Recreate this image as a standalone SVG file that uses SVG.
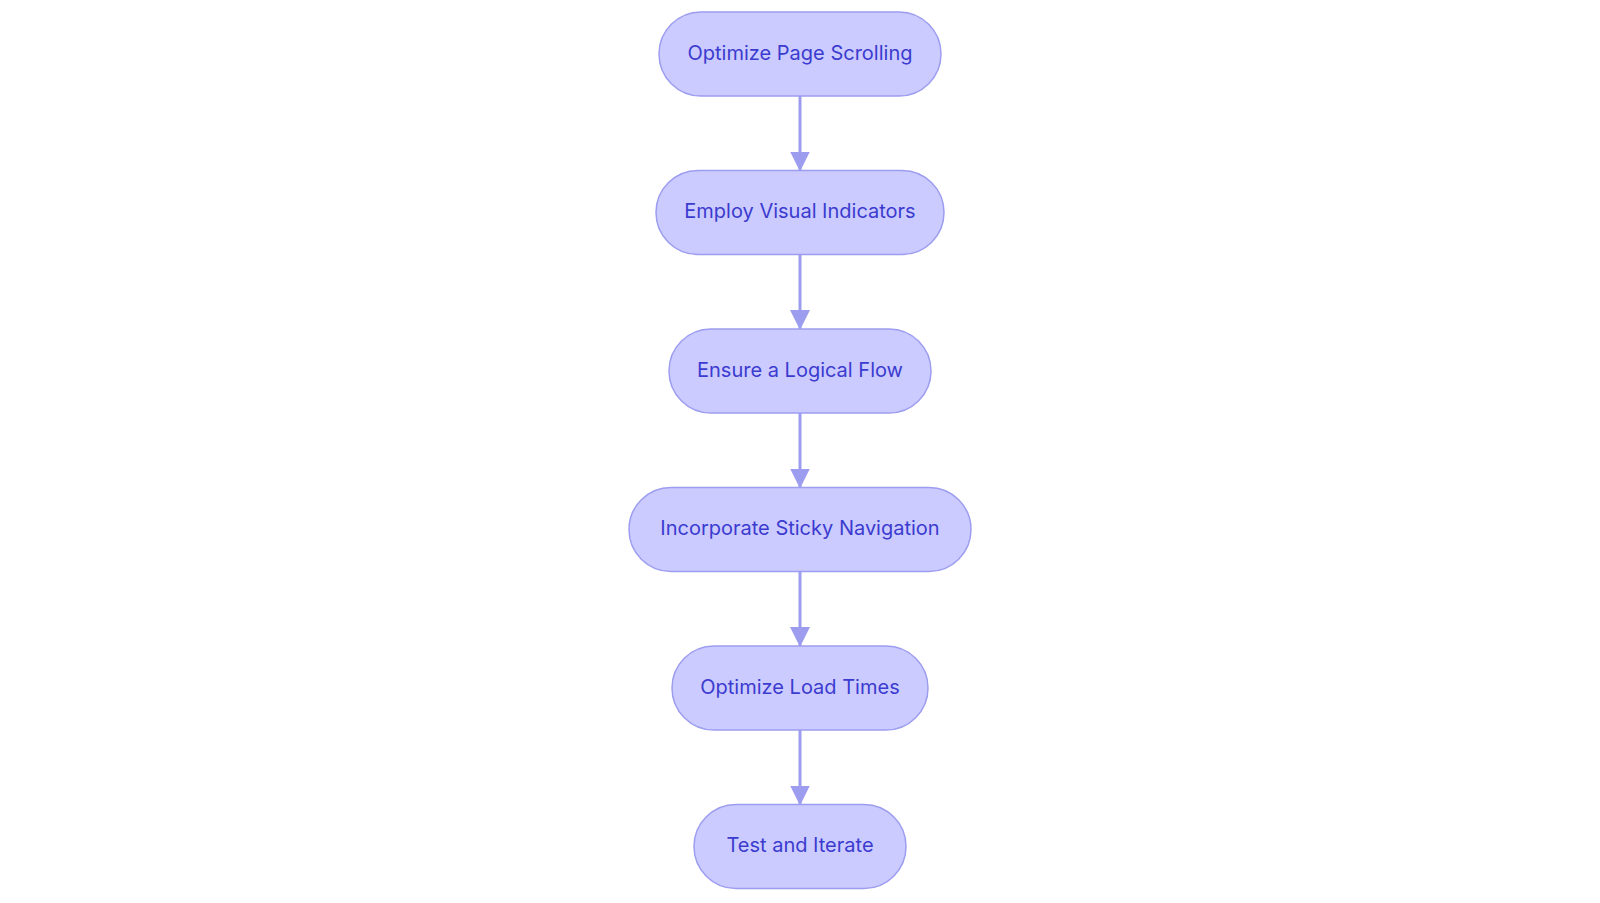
<svg xmlns="http://www.w3.org/2000/svg" width="1600" height="903" viewBox="0 0 1600 903">
<style>
.node rect{fill:#CBCBFF;stroke:#9D9DF0;stroke-width:1.5}
.node text{font-family:Inter,"Noto Sans",sans-serif;font-size:20px;fill:#3B3BCF;text-anchor:middle;dominant-baseline:central}
.edge{stroke:#9D9DF0;stroke-width:3;fill:none}
</style>
<defs>
<marker id="arr" viewBox="0 0 20 20" refX="19" refY="10" markerWidth="20" markerHeight="20" markerUnits="userSpaceOnUse" orient="auto">
<path d="M0,0 L20,10 L0,20 z" fill="#9D9DF0"/>
</marker>
</defs>
<rect width="1600" height="903" fill="#ffffff"/>
<g id="connectors">
<line class="edge" x1="800" y1="96" x2="800" y2="170.5" marker-end="url(#arr)"/>
<line class="edge" x1="800" y1="254.5" x2="800" y2="329" marker-end="url(#arr)"/>
<line class="edge" x1="800" y1="413" x2="800" y2="487.5" marker-end="url(#arr)"/>
<line class="edge" x1="800" y1="571.5" x2="800" y2="646" marker-end="url(#arr)"/>
<line class="edge" x1="800" y1="730" x2="800" y2="804.5" marker-end="url(#arr)"/>
</g>
<g id="n1" class="node"><rect x="659" y="12" width="282" height="84" rx="42"/><text x="800" y="52.5">Optimize Page Scrolling</text></g>
<g id="n2" class="node"><rect x="656" y="170.5" width="288" height="84" rx="42"/><text x="800" y="211">Employ Visual Indicators</text></g>
<g id="n3" class="node"><rect x="669" y="329" width="262" height="84" rx="42"/><text x="800" y="369.5">Ensure a Logical Flow</text></g>
<g id="n4" class="node"><rect x="629" y="487.5" width="342" height="84" rx="42"/><text x="800" y="528">Incorporate Sticky Navigation</text></g>
<g id="n5" class="node"><rect x="672" y="646" width="256" height="84" rx="42"/><text x="800" y="686.5">Optimize Load Times</text></g>
<g id="n6" class="node"><rect x="694" y="804.5" width="212" height="84" rx="42"/><text x="800" y="845">Test and Iterate</text></g>
</svg>
